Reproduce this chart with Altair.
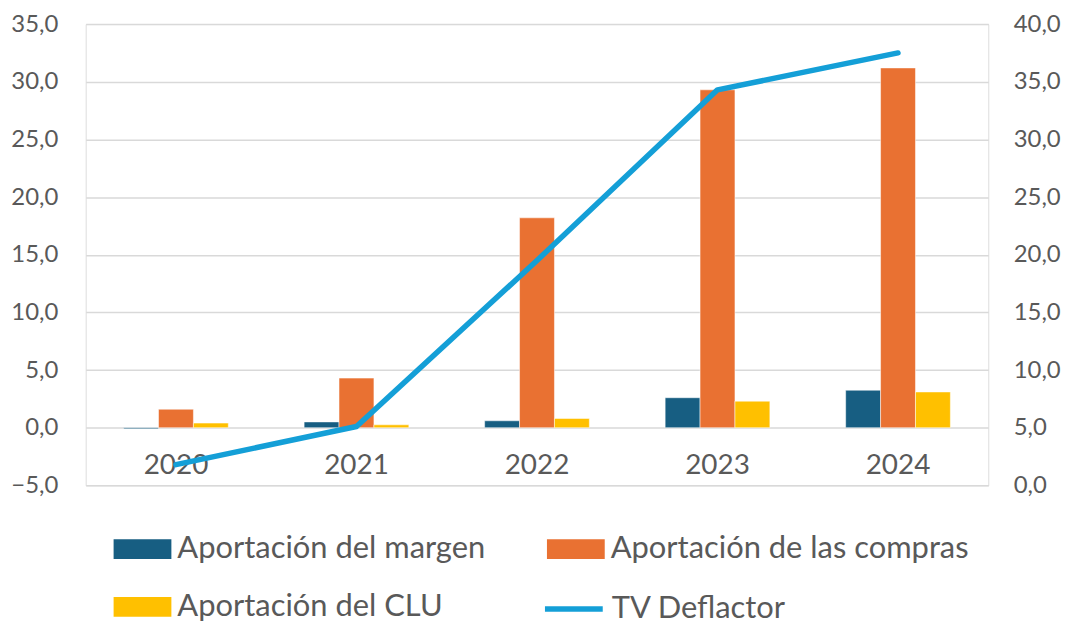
import altair as alt
import pandas as pd

years = ["2020", "2021", "2022", "2023", "2024"]
series = ["Aportación del margen", "Aportación de las compras", "Aportación del CLU"]
margen = [-0.1, 0.5, 0.6, 2.6, 3.25]
compras = [1.6, 4.3, 18.2, 29.3, 31.2]
clu = [0.4, 0.25, 0.8, 2.3, 3.1]
deflactor = [1.8, 5.1, 19.5, 34.3, 37.5]
line_name = "TV Deflactor"

left_ticks = [-5, 0, 5, 10, 15, 20, 25, 30, 35]
right_ticks = [0, 5, 10, 15, 20, 25, 30, 35, 40]

colors = ["#175E82", "#E97132", "#FFC000"]
line_color = "#149FD7"
FONT = "Lato"
TXT = "#595959"

rows = []
for s, vals in zip(series, [margen, compras, clu]):
    for y, v in zip(years, vals):
        rows.append({"year": y, "serie": s, "value": v})
df_bars = pd.DataFrame(rows)
df_line = pd.DataFrame({"year": years, "serie": [line_name] * len(years), "value": deflactor})

fmt = "replace(format(datum.value, '.1f'), '.', ',')"

x_enc = alt.X(
    "year:N", sort=years, title=None,
    scale=alt.Scale(paddingInner=0.42, paddingOuter=0.21),
    axis=alt.Axis(labelAngle=0, domain=False, ticks=False, offset=-58,
                  labelPadding=38, labelBaseline="middle", labelFontSize=28,
                  labelColor=TXT, labelFont=FONT, grid=False),
)

rect_path = "M-1,-0.34H1V0.34H-1Z"

bars = alt.Chart(df_bars).mark_bar(stroke="white", strokeWidth=0.5).encode(
    x=x_enc,
    xOffset=alt.XOffset("serie:N", sort=series, scale=alt.Scale(paddingInner=0, paddingOuter=0)),
    y=alt.Y("value:Q", title=None,
            scale=alt.Scale(domain=[-5, 35], nice=False, zero=False),
            axis=alt.Axis(orient="left", values=left_ticks, labelExpr=fmt, domain=False,
                          ticks=False, grid=True, gridColor="#d9d9d9", gridWidth=1.5,
                          labelPadding=28, minExtent=78, maxExtent=78,
                          labelFontSize=24, labelColor=TXT, labelFont=FONT)),
    color=alt.Color("serie:N", sort=series,
                    scale=alt.Scale(domain=series, range=colors),
                    legend=alt.Legend(title=None, orient="none", legendX=28, legendY=498,
                                      direction="horizontal",
                                      columns=2, symbolType=rect_path, symbolSize=3364,
                                      symbolStrokeWidth=0, labelFontSize=31, labelColor=TXT,
                                      labelFont=FONT, labelOffset=6, columnPadding=61,
                                      rowPadding=14, padding=0, labelLimit=500)),
)

line = alt.Chart(df_line).mark_line(strokeWidth=5.5, strokeCap="round", strokeJoin="round").encode(
    x=x_enc,
    y=alt.Y("value:Q", title=None,
            scale=alt.Scale(domain=[0, 40], nice=False, zero=False),
            axis=alt.Axis(orient="right", values=right_ticks, labelExpr=fmt, domain=False,
                          ticks=False, grid=False, labelPadding=25,
                          labelFontSize=24, labelColor=TXT, labelFont=FONT)),
    stroke=alt.Stroke("serie:N",
                      scale=alt.Scale(domain=[line_name], range=[line_color]),
                      legend=alt.Legend(title=None, orient="none", legendX=458, legendY=555,
                                        symbolType="stroke", symbolSize=3364,
                                        symbolStrokeWidth=5.5, labelFontSize=31,
                                        labelColor=TXT, labelFont=FONT, labelOffset=6,
                                        padding=0, labelLimit=500)),
)

chart = alt.layer(bars, line).resolve_scale(y="independent").properties(
    width=906, height=463,
    padding={"left": 0, "top": 3, "right": 0, "bottom": 0},
).configure_view(stroke="#bfbfbf", strokeWidth=2).configure(background="white")

chart.save("out.html", embed_options={"renderer": "svg", "actions": False})
